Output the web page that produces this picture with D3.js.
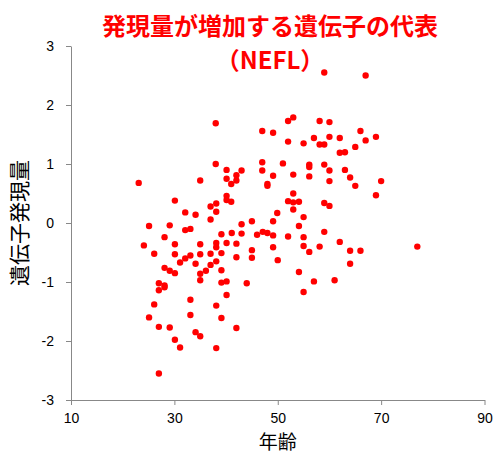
<!DOCTYPE html>
<html>
<head>
<meta charset="utf-8">
<style>
  body { margin: 0; background: #fff; }
  .tick text { font-family: "Liberation Sans", "Noto Sans", sans-serif; font-size: 14px; fill: #000; }
  .axis path, .axis line { stroke: #888; }
  .jp { font-family: "Noto Sans CJK JP", sans-serif; }
</style>
</head>
<body>
<script src="https://d3js.org/d3.v7.min.js"></script>
<script>
// 年齢 (x) and 遺伝子発現量 (y)
var ages = [
  38.0, 23.1, 47.0, 49.1, 38.0, 40.1, 43.0, 47.0, 47.0, 49.1, 42.0, 40.1, 42.0, 41.0, 35.0, 48.0, 48.0,
  40.1, 40.1, 41.0, 38.1, 37.0, 38.1, 30.1, 32.1, 34.1, 37.0, 49.9, 25.1, 29.1, 43.0, 45.0, 49.1,
  59.0, 67.0, 52.0, 53.0, 58.1, 60.0, 66.0, 52.0, 55.0, 57.0, 58.1, 59.0, 60.0, 62.0, 67.0, 69.0,
  65.0, 62.0, 63.0, 51.0, 53.0, 56.1, 56.1, 56.1, 59.0, 60.0, 60.0, 63.0, 64.0, 65.0, 70.0, 69.0,
  53.0, 52.0, 53.0, 54.1, 53.0, 59.0, 60.0, 55.0, 54.1,
  47.1, 48.0, 49.1, 52.0, 55.0, 59.0, 62.0, 49.1, 55.0, 56.1, 58.1, 64.0, 66.0, 77.0, 50.0, 64.0,
  54.1, 57.0, 61.0, 55.0,
  24.1, 26.1, 28.1, 30.1, 30.1, 32.1, 33.1, 31.1, 32.1, 33.1, 34.1, 35.0, 35.0, 35.0, 35.0, 36.1,
  37.0, 37.0, 38.1, 38.1, 38.1, 39.1, 39.1, 39.1, 39.1, 40.1, 40.1, 40.1, 41.1, 42.0, 42.0, 43.0,
  45.0, 45.0, 46.0, 44.0, 28.1, 29.1, 30.1, 27.0, 28.1, 28.1, 27.0, 26.1, 25.1, 27.0, 29.1, 30.1,
  31.1, 33.1, 33.1, 34.1, 35.0, 38.1, 39.1, 38.1, 42.0, 27.0
];
var expr = [
  1.69, 0.68, 1.56, 1.53, 1.00, 0.90, 0.89, 1.03, 0.89, 0.80, 0.81, 0.75, 0.72, 0.66, 0.72, 0.66, 0.63,
  0.46, 0.39, 0.36, 0.33, 0.28, 0.19, 0.38, 0.18, 0.14, 0.06, 0.17, -0.05, -0.04, -0.02, 0.03, 0.03,
  2.55, 2.50, 1.73, 1.79, 1.73, 1.71, 1.56, 1.38, 1.35, 1.44, 1.33, 1.33, 1.46, 1.44, 1.40, 1.46,
  1.29, 1.19, 1.20, 1.01, 0.82, 0.99, 0.95, 0.79, 0.99, 0.89, 0.71, 0.90, 0.77, 0.63, 0.71, 0.47,
  0.50, 0.37, 0.35, 0.36, 0.23, 0.34, 0.29, 0.10, -0.05,
  -0.15, -0.17, -0.21, -0.23, -0.24, -0.15, -0.32, -0.41, -0.39, -0.49, -0.40, -0.47, -0.47, -0.40, -0.63, -0.69,
  -0.83, -0.99, -0.97, -1.17,
  -0.38, -0.52, -0.24, -0.36, -0.53, -0.12, -0.10, -0.67, -0.60, -0.55, -0.69, -0.36, -0.53, -0.86, -0.97, -0.81,
  -0.52, -0.71, -0.34, -0.41, -0.65, -0.19, -0.51, -0.80, -1.01, -0.34, -0.99, -1.22, -0.17, -0.35, -0.58, -0.18,
  -0.46, -0.59, -0.20, -1.02, -0.76, -0.81, -0.85, -1.02, -1.06, -1.09, -1.14, -1.38, -1.60, -1.76, -1.77, -1.98,
  -2.11, -1.30, -1.56, -1.85, -1.92, -1.40, -1.61, -2.12, -1.78, -2.55
];
var xTicks = [10, 30, 50, 70, 90];
var yTicks = [-3, -2, -1, 0, 1, 2, 3];
var titleLines = ["発現量が増加する遺伝子の代表", "（NEFL）"];
var xTitle = "年齢";
var yTitle = "遺伝子発現量";

var width = 497, height = 453;
var margin = {top: 46, right: 12, bottom: 53, left: 71};

var svg = d3.select("body").append("svg")
    .attr("width", width)
    .attr("height", height);

var x = d3.scaleLinear().domain([10, 90]).range([margin.left, width - margin.right - 0.5]);
var y = d3.scaleLinear().domain([-3, 3]).range([height - margin.bottom, margin.top]);

var plain = function(d){ return String(d); };

svg.append("g")
    .attr("class", "axis")
    .attr("transform", "translate(0," + y(-3) + ")")
    .call(d3.axisBottom(x).tickValues(xTicks).tickFormat(plain).tickSize(5).tickSizeOuter(0).tickPadding(8));

svg.append("g")
    .attr("class", "axis")
    .attr("transform", "translate(" + x(10) + ",0)")
    .call(d3.axisLeft(y).tickValues(yTicks).tickFormat(plain).tickSize(5).tickSizeOuter(0).tickPadding(12));

svg.append("g")
  .selectAll("circle")
  .data(ages.map(function(a, i){ return [a, expr[i]]; }))
  .join("circle")
    .attr("cx", function(d){ return x(d[0]); })
    .attr("cy", function(d){ return y(d[1]); })
    .attr("r", 3.2)
    .attr("fill", "#ff0000");

// title
svg.append("g").selectAll("text")
  .data(titleLines)
  .join("text")
    .attr("class", "jp")
    .attr("x", 270)
    .attr("y", function(d, i){ return 35 + i * 34; })
    .attr("text-anchor", "middle")
    .attr("font-size", 24)
    .attr("font-weight", "bold")
    .attr("fill", "#ff0000")
    .text(function(d){ return d; });

svg.append("text")
    .attr("class", "jp")
    .attr("x", x(50))
    .attr("y", 449)
    .attr("text-anchor", "middle")
    .attr("font-size", 19)
    .text(xTitle);

svg.append("text")
    .attr("class", "jp")
    .attr("transform", "translate(27," + y(0) + ") rotate(-90)")
    .attr("text-anchor", "middle")
    .attr("font-size", 21)
    .text(yTitle);
</script>
</body>
</html>
